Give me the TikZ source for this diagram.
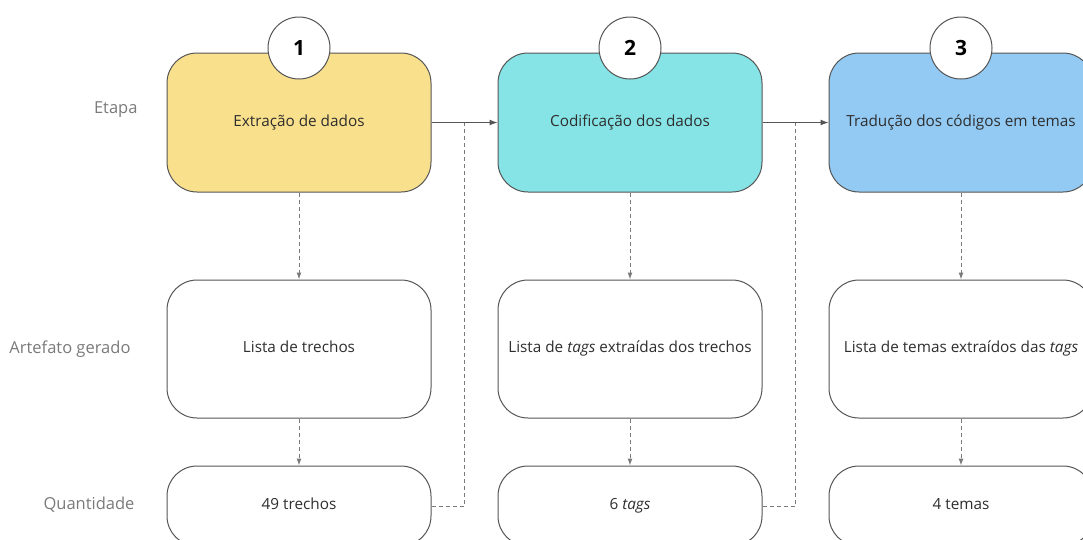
\documentclass[tikz,border=0pt]{standalone}
\usepackage{fontspec}
\setmainfont{Open Sans}
\usetikzlibrary{positioning,arrows.meta}
\definecolor{etapaA}{HTML}{F9E08C}
\definecolor{etapaB}{HTML}{86E4E6}
\definecolor{etapaC}{HTML}{93CAF4}
\definecolor{linha}{HTML}{555555}
\definecolor{rotulo}{HTML}{7A7A7A}
\definecolor{texto}{HTML}{2E2E2E}
\tikzset{
  caixa/.style={draw=linha, line width=1pt, rounded corners=30pt, minimum width=264pt, inner xsep=1pt, text height=11pt, text depth=3.5pt, text=texto, font=\fontsize{15.3}{18}\selectfont},
  etapa/.style={caixa, minimum height=139pt},
  artefato/.style={caixa, fill=white, minimum height=138pt},
  qtd/.style={caixa, fill=white, minimum height=80pt},
  numero/.style={circle, draw=linha, line width=1pt, fill=white, minimum size=62pt, inner sep=0pt, text=black, font=\fontsize{21}{25}\selectfont\bfseries},
  rot/.style={anchor=east, text=rotulo, text height=11pt, text depth=3.5pt, font=\fontsize{16.5}{20}\selectfont},
  fluxo/.style={draw=linha, line width=1pt, -{Latex[length=8pt,width=6pt]}},
  tracejado/.style={draw=rotulo, line width=1pt, dash pattern=on 4pt off 3pt},
  ponta/.style={-{Latex[length=7pt,width=5pt]}},
}
\begin{document}
\begin{tikzpicture}[x=1pt,y=-1pt]
\useasboundingbox (0,0) rectangle (1083,539);
\clip (0,0) rectangle (1083,539);
% rotulos das linhas
\node[rot] (lEtapa) at (141,110) {Etapa};
\node[rot] (lArtefato) at (134,350) {Artefato gerado};
\node[rot] (lQtd) at (138,506) {Quantidade};

% etapas
\node[etapa, fill=etapaA] (e1) at (299,122.5) {Extração de dados};
\node[etapa, fill=etapaB] (e2) at (630,122.5) {Codificação dos dados};
\node[etapa, fill=etapaC] (e3) at (961,122.5) {Tradução dos códigos em temas};
\node[numero] (n1) at (299,48) {1};
\node[numero] (n2) at (630,48) {2};
\node[numero] (n3) at (961,48) {3};

% artefatos
\node[artefato] (a1) at (299,349) {Lista de trechos};
\node[artefato] (a2) at (630,349) {Lista de \textit{tags} extraídas dos trechos};
\node[artefato] (a3) at (961,349) {Lista de temas extraídos das \textit{tags}};

% quantidades
\node[qtd] (q1) at (299,506) {49 trechos};
\node[qtd] (q2) at (630,506) {6 \textit{tags}};
\node[qtd] (q3) at (961,506) {4 temas};

\draw[fluxo] (e1) -- (e2);
\draw[fluxo] (e2) -- (e3);

\foreach \i in {1,2,3}{
  \draw[tracejado,ponta] (e\i) -- (a\i);
  \draw[tracejado,ponta] (a\i) -- (q\i);
}

\coordinate (j1) at (464,122.5);
\coordinate (j2) at (795,122.5);
\draw[tracejado] (q1.east) -| (j1);
\draw[tracejado] (q2.east) -| (j2);
\end{tikzpicture}
\end{document}
